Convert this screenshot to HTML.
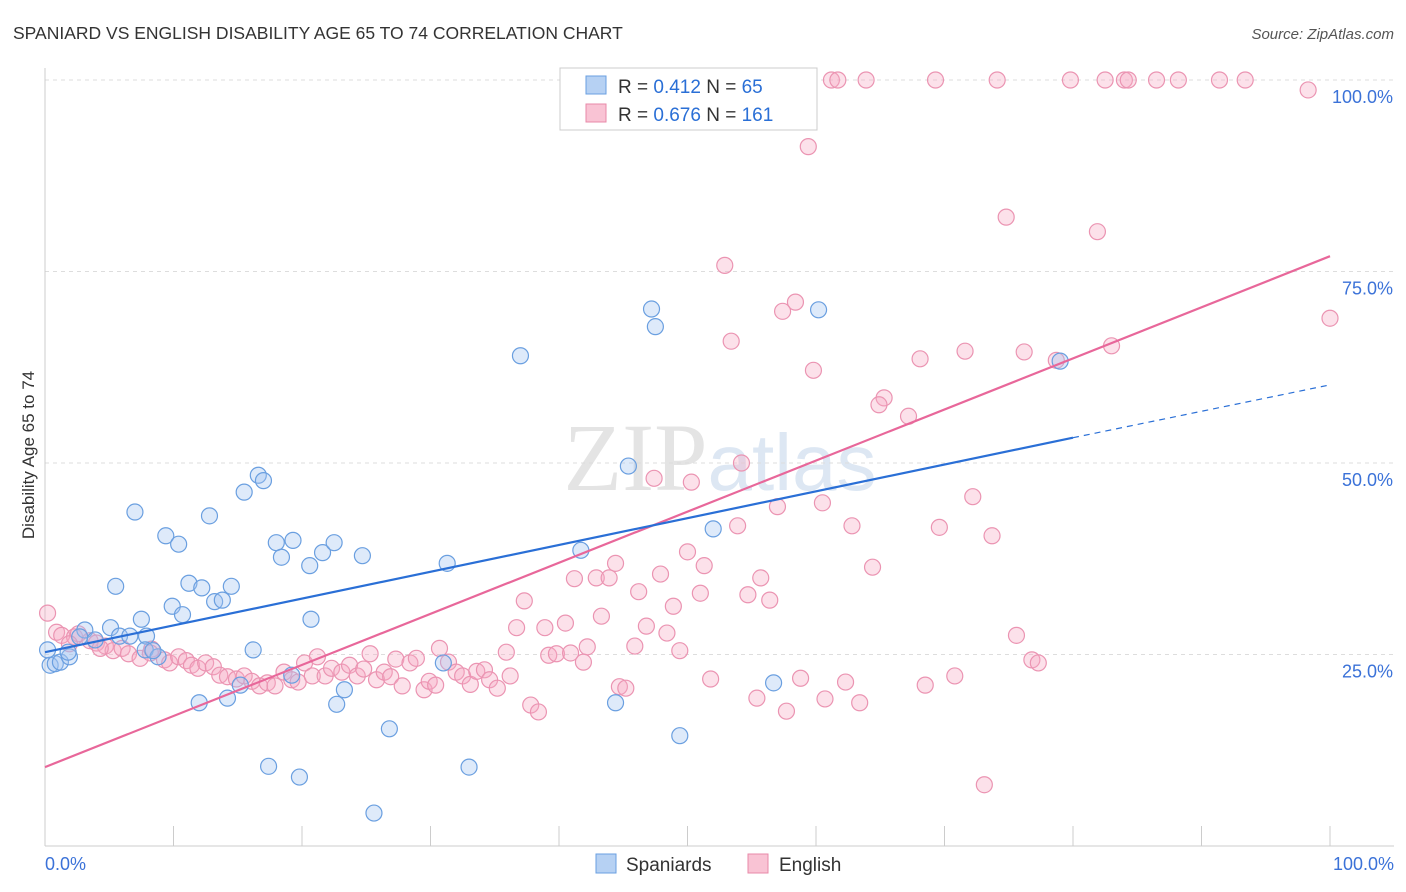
<!DOCTYPE html>
<html><head><meta charset="utf-8"><style>
body{margin:0;background:#fff;font-family:"Liberation Sans",sans-serif;}
svg{display:block}
</style></head><body>
<svg id="chart" width="1406" height="892" xmlns="http://www.w3.org/2000/svg">
<text x="13" y="39" font-size="17.5" fill="#333">SPANIARD VS ENGLISH DISABILITY AGE 65 TO 74 CORRELATION CHART</text>
<text x="1394" y="39" font-size="15" fill="#555" text-anchor="end" font-style="italic">Source: ZipAtlas.com</text>
<text x="720" y="490" font-size="96" fill="#e4e4e4" text-anchor="middle" font-family="Liberation Serif,serif">ZIP<tspan fill="#dde7f3" font-family="Liberation Sans,sans-serif" font-size="80">atlas</tspan></text>
<g id="grid"></g>
<g id="axes"></g>
<text transform="translate(34,455) rotate(-90)" font-size="17" fill="#333" text-anchor="middle">Disability Age 65 to 74</text>
<g id="pts"></g>
<g id="lines"></g>
<g>
<rect x="560" y="68" width="257" height="62" fill="#fff" stroke="#ccc"/>
<rect x="586" y="76" width="20" height="18" fill="#b6d1f3" stroke="#6a9fe0"/>
<rect x="586" y="104" width="20" height="18" fill="#f9c3d4" stroke="#e889a8"/>
<text x="618" y="93" font-size="19" fill="#333">R = <tspan fill="#2a6fd6">0.412</tspan>   N = <tspan fill="#2a6fd6"> 65</tspan></text>
<text x="618" y="121" font-size="19" fill="#333">R = <tspan fill="#2a6fd6">0.676</tspan>   N = <tspan fill="#2a6fd6">161</tspan></text>
</g>
<g>
<rect x="596" y="854" width="20" height="19" fill="#b6d1f3" stroke="#6a9fe0"/>
<text x="626" y="871" font-size="19" fill="#333">Spaniards</text>
<rect x="748" y="854" width="20" height="19" fill="#f9c3d4" stroke="#e889a8"/>
<text x="779" y="871" font-size="19" fill="#333">English</text>
</g>
</svg>
<script>
const yTicks=[25,50,75,100];
const yTickLabels=["25.0%","50.0%","75.0%","100.0%"];
const xTickLabels=["0.0%","100.0%"];
const blueX=[0.4,0.8,1.2,1.9,1.8,0.2,3.1,2.7,3.9,5.1,5.8,6.6,7.9,7.8,8.8,8.4,7.0,5.5,7.5,9.4,10.4,9.9,10.7,11.2,12.2,12.8,13.2,13.8,14.5,12.0,14.2,15.2,15.5,16.2,16.6,17.0,18.0,18.4,19.3,20.6,20.7,21.6,22.5,23.3,22.7,24.7,17.4,19.8,25.6,26.8,31.3,31.0,33.0,37.0,41.7,44.4,45.4,47.2,47.5,49.4,52.0,56.7,60.2,79.0,19.2];
const blueY=[23.6,23.8,24.0,24.7,25.3,25.6,28.2,27.3,26.9,28.5,27.4,27.4,27.4,25.6,24.7,25.5,43.6,33.9,29.6,40.5,39.4,31.3,30.2,34.3,33.7,43.1,31.9,32.1,33.9,18.7,19.3,21.0,46.2,25.6,48.4,47.7,39.6,37.7,39.9,36.6,29.6,38.3,39.6,20.4,18.5,37.9,10.4,9.0,4.3,15.3,36.9,23.9,10.3,64.0,38.6,18.7,49.6,70.1,67.8,14.4,41.4,21.3,70.0,63.3,22.3];
const pinkX=[52.3,61.2,61.7,63.9,69.3,74.1,79.8,82.5,84.0,84.3,86.5,88.2,91.4,93.4,98.3,59.4,74.8,81.9,52.9,58.4,57.4,100,53.4,71.6,76.2,83.0,78.7,68.1,59.8,65.3,64.9,67.2,54.2,47.4,50.3,72.2,57.0,60.5,53.9,62.8,69.6,73.7,50.0,44.4,51.3,64.4,47.9,41.2,42.9,43.9,55.7,46.2,54.7,51.0,56.4,37.3,48.9,43.3,40.5,36.7,38.9,46.8,48.4,75.6,42.2,45.9,30.7,35.9,39.2,39.8,40.9,49.4,41.9,76.8,77.3,70.8,51.8,58.8,62.3,68.5,44.7,45.2,55.4,60.7,63.4,37.8,38.4,57.7,73.1,0.2,0.9,1.3,2.3,2.6,3.5,4.0,4.7,5.3,6.0,6.5,7.4,8.3,9.3,9.7,10.4,11.0,11.4,11.9,12.5,13.1,13.6,14.2,14.9,15.5,16.1,16.7,17.3,17.9,18.6,19.2,19.7,20.2,20.8,21.2,21.8,22.3,23.1,23.7,24.3,24.8,25.3,25.8,26.4,26.9,27.3,27.8,28.4,28.9,29.5,29.9,30.4,31.4,32.0,32.5,33.1,33.6,34.2,34.6,35.2,36.2,8.2,4.3,1.9];
const pinkY=[100,100,100,100,100,100,100,100,100,100,100,100,100,100,98.7,91.3,82.1,80.2,75.8,71.0,69.8,68.9,65.9,64.6,64.5,65.3,63.4,63.6,62.1,58.5,57.6,56.1,50.0,48.0,47.5,45.6,44.3,44.8,41.8,41.8,41.6,40.5,38.4,36.9,36.6,36.4,35.5,34.9,35.0,35.0,35.0,33.2,32.8,33.0,32.1,32.0,31.3,30.0,29.1,28.5,28.5,28.7,27.8,27.5,26.0,26.1,25.8,25.3,24.9,25.1,25.2,25.5,24.0,24.3,23.9,22.2,21.8,21.9,21.4,21.0,20.8,20.6,19.3,19.2,18.7,18.4,17.5,17.6,8.0,30.4,27.9,27.5,27.3,27.7,26.8,26.5,26.1,25.5,25.8,25.1,24.5,25.7,24.3,23.9,24.7,24.2,23.6,23.2,23.9,23.4,22.3,22.1,21.8,22.2,21.5,20.9,21.3,20.9,22.7,21.7,21.4,23.9,22.2,24.7,22.2,23.2,22.7,23.6,22.2,23.1,25.1,21.7,22.7,22.1,24.4,20.9,23.9,24.5,20.4,21.5,21.0,24.0,22.7,22.2,21.1,22.8,23.0,21.7,20.6,22.2,25.2,25.8,26.4];
const blueLine=[25.3,53.3,60.2]; // y at x=0, x=80 (solid end), x=100
const pinkLine=[10.3,77.0];
const NS="http://www.w3.org/2000/svg";
const X=v=>45+v*12.85, Y=v=>846-v*7.66;
function mk(parent,tag,attrs){const e=document.createElementNS(NS,tag);for(const k in attrs)e.setAttribute(k,attrs[k]);document.getElementById(parent).appendChild(e);return e;}
yTicks.forEach((t,i)=>{
 const l=mk('grid','line',{x1:45,x2:1394,y1:Y(t),y2:Y(t),stroke:'#ddd','stroke-dasharray':'4,4'});
 
 
 const tx=mk('grid','text',{x:1393,y:Y(t)+23,'font-size':18,fill:'#3b72d8','text-anchor':'end'});
 tx.textContent=yTickLabels[i];
 
 
});
const ax=mk('axes','line',{x1:45,x2:1394,y1:846,y2:846,stroke:'#ccc'});


const ay=mk('axes','line',{x1:45,x2:45,y1:68,y2:846,stroke:'#ccc'});


for(let i=0;i<=10;i++){
 const t=mk('axes','line',{x1:X(i*10),x2:X(i*10),y1:826,y2:846,stroke:'#ccc'});
 
 
}
xTickLabels.forEach((s,i)=>{
 const t=mk('axes','text',{x:i?1394:45,y:870,'font-size':18,fill:'#3b72d8','text-anchor':i?'end':'start'});
 t.textContent=s;
 
 
});
pinkX.forEach((v,i)=>{
 const c=mk('pts','circle',{cx:X(v),cy:Y(pinkY[i]),r:8,fill:'rgba(247,170,196,0.35)',stroke:'#eb94b2','stroke-width':1.2});
 
 
});
blueX.forEach((v,i)=>{
 const c=mk('pts','circle',{cx:X(v),cy:Y(blueY[i]),r:8,fill:'rgba(160,196,240,0.35)',stroke:'#6a9fe0','stroke-width':1.2});
 
 
});
const pl=mk('lines','line',{x1:X(0),y1:Y(pinkLine[0]),x2:X(100),y2:Y(pinkLine[1]),stroke:'#e8679a','stroke-width':2.2});


const bl=mk('lines','line',{x1:X(0),y1:Y(blueLine[0]),x2:X(80),y2:Y(blueLine[1]),stroke:'#2a6fd6','stroke-width':2.2});


const bd=mk('lines','line',{x1:X(80),y1:Y(blueLine[1]),x2:X(100),y2:Y(blueLine[2]),stroke:'#2a6fd6','stroke-width':1.2,'stroke-dasharray':'6,5'});


</script>
</body></html>
